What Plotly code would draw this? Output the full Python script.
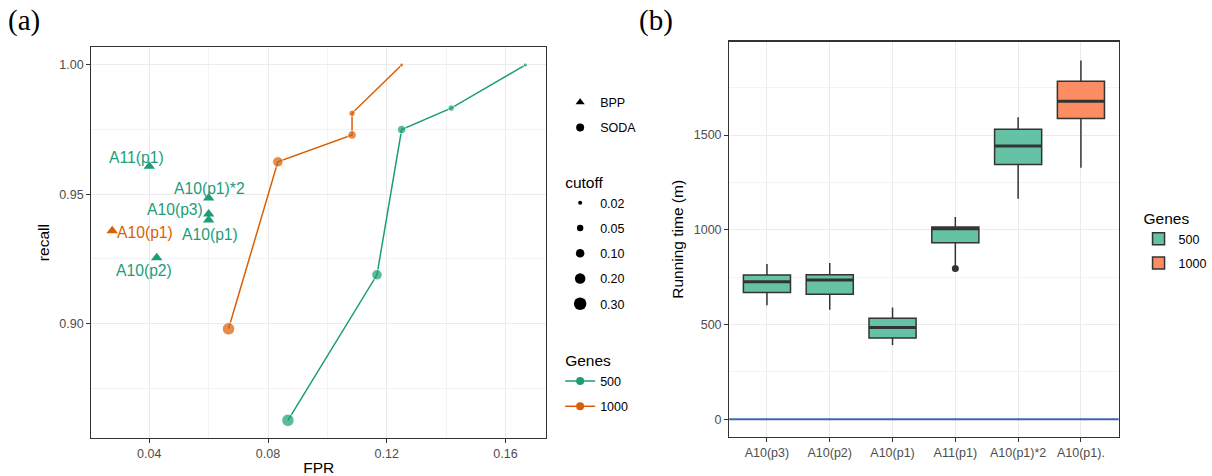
import plotly.graph_objects as go

# ---------------- data: panel (a) ----------------
fpr_500 = [0.0867, 0.1167, 0.125, 0.1417, 0.1667]
recall_500 = [0.8625, 0.9188, 0.975, 0.9833, 1.0]
cutoff_500 = [0.30, 0.20, 0.10, 0.05, 0.02]

fpr_1000 = [0.0667, 0.0833, 0.1083, 0.1083, 0.125]
recall_1000 = [0.8979, 0.9625, 0.9729, 0.9813, 1.0]
cutoff_1000 = [0.30, 0.20, 0.10, 0.05, 0.02]

bpp_labels = ["A11(p1)", "A10(p1)*2", "A10(p3)", "A10(p1)", "A10(p2)", "A10(p1)"]
bpp_fpr = [0.04, 0.06, 0.06, 0.06, 0.0425, 0.0275]
bpp_recall = [0.9608, 0.9485, 0.9423, 0.9400, 0.9254, 0.9358]
bpp_genes = [500, 500, 500, 500, 500, 1000]

cutoff_levels = [0.02, 0.05, 0.10, 0.20, 0.30]

# ---------------- data: panel (b) ----------------
box_labels = ["A10(p3)", "A10(p2)", "A10(p1)", "A11(p1)", "A10(p1)*2", "A10(p1)."]
box_genes = [500, 500, 500, 500, 500, 1000]
box_low = [601, 578, 392, 812, 1164, 1327]
box_q1 = [669, 660, 429, 932, 1345, 1587]
box_med = [726, 735, 484, 1005, 1442, 1679]
box_q3 = [761, 763, 533, 1015, 1531, 1784]
box_high = [819, 824, 589, 1067, 1594, 1894]
outlier_label = ["A11(p1)"]
outlier_value = [795]

# ---------------- styles ----------------
COL = {500: "#1B9E77", 1000: "#D95F02"}
FILL = {500: "#66C2A5", 1000: "#FC8D62"}
SIZE = {0.02: 4, 0.05: 6.5, 0.10: 8.5, 0.20: 10.5, 0.30: 12.5}
DARK = "#333333"
GRID = "#EBEBEB"
SANS = "Liberation Sans, Arial, sans-serif"
TICKF = dict(family=SANS, size=12.5, color="#4D4D4D")
TITLEF = dict(family=SANS, size=15.5, color="black")
LEGF = dict(family=SANS, size=12.5, color="black")
LEGT = dict(family=SANS, size=15.5, color="black")

fig = go.Figure()

# --- SODA lines (panel a)
for g, xs, ys, cs in [(500, fpr_500, recall_500, cutoff_500),
                      (1000, fpr_1000, recall_1000, cutoff_1000)]:
    fig.add_trace(go.Scatter(
        x=xs, y=ys, mode="lines+markers", xaxis="x", yaxis="y",
        line=dict(color=COL[g], width=1.5),
        marker=dict(color=COL[g], size=[SIZE[c] for c in cs], symbol="circle"),
        showlegend=False, hoverinfo="skip"))

# --- BPP triangles
for g in (500, 1000):
    idx = [i for i, gg in enumerate(bpp_genes) if gg == g]
    fig.add_trace(go.Scatter(
        x=[bpp_fpr[i] for i in idx], y=[bpp_recall[i] for i in idx],
        mode="markers", xaxis="x", yaxis="y",
        marker=dict(color=COL[g], size=10, symbol="triangle-up"),
        showlegend=False, hoverinfo="skip"))

# --- labels (repelled text offsets, pixels)
label_shift = [(-13, 9), (1, 10), (-33.5, 5), (1, -14), (-12.5, -13), (33, -2)]
for i, lab in enumerate(bpp_labels):
    dx, dy = label_shift[i]
    fig.add_annotation(x=bpp_fpr[i], y=bpp_recall[i], xref="x", yref="y",
                       text=lab, showarrow=False, xshift=dx, yshift=dy,
                       font=dict(family=SANS, size=15.7, color=COL[bpp_genes[i]]))

# --- legend (a): shape
for name, sym in [("BPP", "triangle-up"), ("SODA", "circle")]:
    fig.add_trace(go.Scatter(x=[None], y=[None], mode="markers", name=name,
                             xaxis="x", yaxis="y", legend="legend", legendgroup=name,
                             marker=dict(color="black", size=8, symbol=sym)))
# --- legend (a): cutoff
for i, c in enumerate(cutoff_levels):
    fig.add_trace(go.Scatter(x=[None], y=[None], mode="markers", name=f"{c:.2f}",
                             xaxis="x", yaxis="y", legend="legend2", legendgroup=f"c{c}",
                             legendgrouptitle_text="cutoff" if i == 0 else None,
                             marker=dict(color="black", size=SIZE[c], symbol="circle")))
# --- legend (a): genes
for i, g in enumerate((500, 1000)):
    fig.add_trace(go.Scatter(x=[None], y=[None], mode="lines+markers", name=str(g),
                             xaxis="x", yaxis="y", legend="legend3", legendgroup=f"g{g}",
                             legendgrouptitle_text="Genes" if i == 0 else None,
                             line=dict(color=COL[g], width=1.5),
                             marker=dict(color=COL[g], size=8)))

# --- boxes (panel b)
pos = list(range(len(box_labels)))
BW = 0.75
for g in (500, 1000):
    idx = [i for i, gg in enumerate(box_genes) if gg == g]
    fig.add_trace(go.Box(
        x=[pos[i] for i in idx],
        q1=[box_q1[i] for i in idx], median=[box_med[i] for i in idx],
        q3=[box_q3[i] for i in idx], lowerfence=[box_low[i] for i in idx],
        upperfence=[box_high[i] for i in idx],
        xaxis="x2", yaxis="y2", width=BW, whiskerwidth=0,
        fillcolor=FILL[g], line=dict(color=DARK, width=1.5),
        name=str(g), legend="legend4", legendgroup=f"b{g}",
        legendgrouptitle_text="Genes" if g == 500 else None,
        boxpoints=False, hoverinfo="skip"))

# thick median lines
mx, my = [], []
for i in pos:
    mx += [pos[i] - BW / 2, pos[i] + BW / 2, None]
    my += [box_med[i], box_med[i], None]
fig.add_trace(go.Scatter(x=mx, y=my, mode="lines", xaxis="x2", yaxis="y2",
                         line=dict(color=DARK, width=3), showlegend=False,
                         hoverinfo="skip"))
# outlier
fig.add_trace(go.Scatter(x=[box_labels.index(l) for l in outlier_label], y=outlier_value,
                         mode="markers", xaxis="x2", yaxis="y2",
                         marker=dict(color=DARK, size=7), showlegend=False,
                         hoverinfo="skip"))

# horizontal line at 0
fig.add_shape(type="line", xref="x2 domain", yref="y2", x0=0, x1=1, y0=0, y1=0,
              line=dict(color="#3A68B0", width=2))

axis_common = dict(showline=True, mirror=True, linecolor=DARK, linewidth=1.2,
                   ticks="outside", ticklen=4, tickcolor=DARK, tickwidth=1,
                   showgrid=True, gridcolor=GRID, gridwidth=1, zeroline=False,
                   tickfont=TICKF, title_font=TITLEF)

fig.update_layout(
    width=1212, height=476, margin=dict(l=0, r=0, t=0, b=0),
    paper_bgcolor="white", plot_bgcolor="white",
    boxmode="overlay", hovermode=False,
    xaxis=dict(domain=[0.07566, 0.45215], range=[0.0205, 0.1737],
               tick0=0, dtick=0.04, tickformat=".2f",
               minor=dict(dtick=0.02, showgrid=True, gridcolor=GRID, gridwidth=0.6, ticks=""),
               title=dict(text="FPR", standoff=4), anchor="y", **axis_common),
    yaxis=dict(domain=[0.07563, 0.90063], range=[0.8556, 1.0069],
               tick0=0, dtick=0.05, tickformat=".2f",
               minor=dict(dtick=0.025, showgrid=True, gridcolor=GRID, gridwidth=0.6, ticks=""),
               title=dict(text="recall", standoff=6), anchor="x", **axis_common),
    xaxis2=dict(domain=[0.6037, 0.9260], range=[-0.6, 5.6],
                tickmode="array", tickvals=pos, ticktext=box_labels,
                anchor="y2", **axis_common),
    yaxis2=dict(domain=[0.07773, 0.9124], range=[-95, 1994],
                tick0=0, dtick=500,
                minor=dict(dtick=250, showgrid=True, gridcolor=GRID, gridwidth=0.6, ticks=""),
                title=dict(text="Running time (m)", standoff=6), anchor="x2", **axis_common),
    legend=dict(x=0.4637, y=0.815, xanchor="left", yanchor="top", font=LEGF,
                bgcolor="rgba(0,0,0,0)", tracegroupgap=6),
    legend2=dict(x=0.4637, y=0.652, xanchor="left", yanchor="top", font=LEGF,
                 grouptitlefont=LEGT, bgcolor="rgba(0,0,0,0)", tracegroupgap=6),
    legend3=dict(x=0.4637, y=0.276, xanchor="left", yanchor="top", font=LEGF,
                 grouptitlefont=LEGT, bgcolor="rgba(0,0,0,0)", tracegroupgap=6),
    legend4=dict(x=0.9425, y=0.576, xanchor="left", yanchor="top", font=LEGF,
                 grouptitlefont=LEGT, bgcolor="rgba(0,0,0,0)", tracegroupgap=5),
)

# panel tags
for txt, xp in [("(a)", 0.005), ("(b)", 0.527)]:
    fig.add_annotation(x=xp, y=1.0, xref="paper", yref="paper", xanchor="left", yanchor="top",
                       text=txt, showarrow=False, yshift=-2,
                       font=dict(family="Liberation Serif, DejaVu Serif, serif", size=29, color="black"))

fig.write_html("out.html", config={"displayModeBar": False, "staticPlot": True},
               post_script="document.body.style.margin='0';")
